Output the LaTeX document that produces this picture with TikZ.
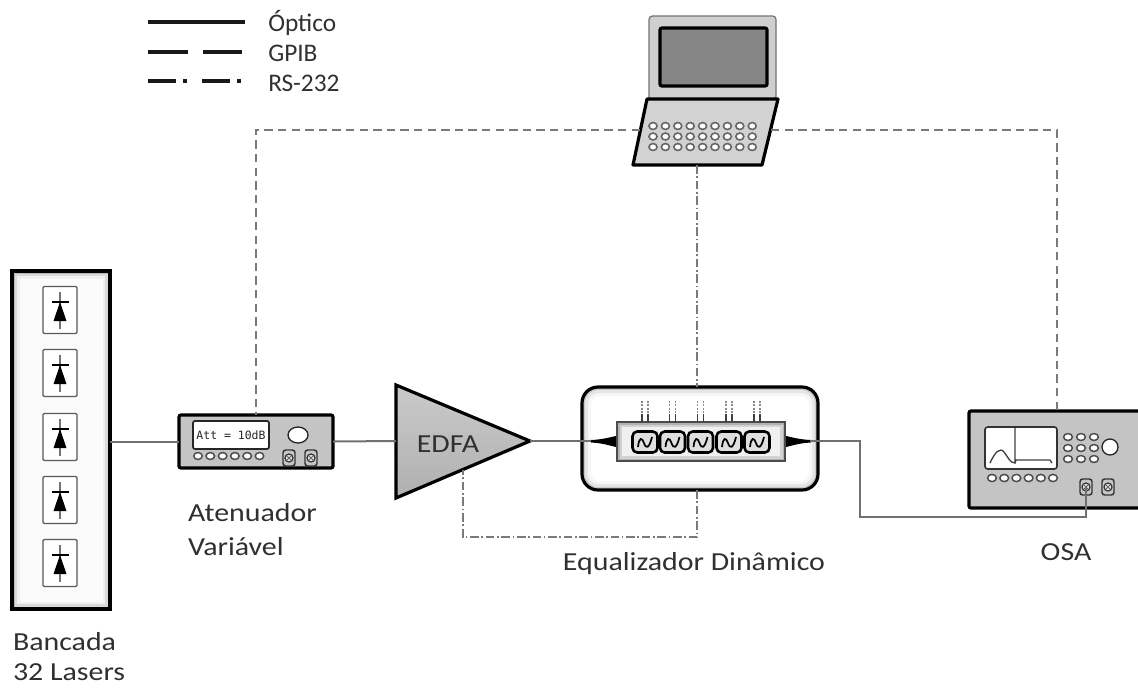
\documentclass[tikz,border=0pt]{standalone}
\usepackage{fontspec}
\setmainfont{Carlito}
\newfontfamily\labelfont[FakeStretch=1.15]{Carlito}
\newfontfamily\screenfont{DejaVu Sans Mono}
\usetikzlibrary{calc}
\definecolor{ink}{HTML}{303030}
\definecolor{wire}{HTML}{707070}
\definecolor{panel}{HTML}{C4C4C4}
\definecolor{lcd}{HTML}{868686}

\begin{document}
\begin{tikzpicture}[x=0.75pt,y=-0.75pt,
  lbl/.style={text=ink, font=\labelfont\fontsize{19.5}{23}\selectfont, inner sep=0pt, outer sep=0pt},
  legendtxt/.style={text=ink, font=\fontsize{19}{22}\selectfont, inner sep=0pt, anchor=base west},
  legendline/.style={draw=black!90, line width=2.5pt},
  optic/.style={draw=wire, line width=1.5pt},
  gpib/.style={draw=black!52, line width=1.6pt, dash pattern=on 6.3pt off 3.9pt},
  rs/.style={draw=black!52, line width=1.5pt, dash pattern=on 6.5pt off 2pt on 1.2pt off 2pt},
  device/.style={draw=black, line width=2.4pt, fill=panel, inner sep=0pt, outer sep=0pt, rounded corners=1.5pt},
  knob/.style={draw=black!85, line width=1pt, fill=white},
  btn/.style={draw=black!70, line width=1.1pt, fill=white},
  port/.style={draw=black!80, line width=1.1pt, fill=gray!45, rounded corners=2pt},
]
\clip (0,0) rectangle (1138,687);

% ---------- legend ----------
\draw[legendline] (148,22) -- (245,22);
\draw[legendline, dash pattern=on 30pt off 11.25pt] (148,52) -- (242,52);
\draw[legendline, dash pattern=on 21pt off 5.5pt on 3pt off 11pt] (148,81) -- (241,81);
\node[legendtxt] (leg-opt) at (268,31) {Óptico};
\node[legendtxt] (leg-gpib) at (268,61.5) {GPIB};
\node[legendtxt] (leg-rs) at (268,91.5) {RS-232};

% ---------- laser bank ----------
\fill[gray!55] (12,271) rectangle (110,609);
\fill[gray!30] (14.5,273.5) rectangle (107.5,606.5);
\fill[gray!12] (17,276) rectangle (105,604);
\fill[gray!3] (19.5,278.5) rectangle (102.5,601.5);
\node[draw=black, line width=2.6pt, minimum width=73.5pt, minimum height=253.5pt,
      inner sep=0pt, outer sep=0pt] (banc) at (61,440) {};
\foreach \dy in {310,373,437,500,563} {
  \draw[black!65, line width=0.9pt, fill=white, rounded corners=1pt] (43,\dy-23.5) rectangle (77,\dy+23.5);
  \draw[black!55, line width=1.1pt] (60,\dy-18) -- (60,\dy+19);
  \fill (60,\dy-8) -- (66.5,\dy+11) -- (53.5,\dy+11) -- cycle;
  \draw[line width=1.1pt] (51.5,\dy-8) -- (68.5,\dy-8);
}
\node[lbl, anchor=base west] (banc-l1) at (13,650) {Bancada};
\node[lbl, anchor=base west] (banc-l2) at (13,680) {32 Lasers};

% ---------- variable attenuator ----------
\node[device, minimum width=115.5pt, minimum height=39.75pt] (att) at (256,441.5) {};
\draw[black!85, line width=1.3pt, fill=white, rounded corners=1.5pt] (193,421) rectangle (269,449);
\node[font=\screenfont\fontsize{8.6}{10}\selectfont, text=black!85, inner sep=0pt] (att-disp) at (231,435.5) {Att = 10dB};
\draw[knob] (298,435) ellipse (7.5pt and 6pt);
\foreach \i in {0,...,5} \draw[btn] (198+12.3*\i,456) ellipse (3.2pt and 2.6pt);
\foreach \cx in {289,311} {
  \draw[port] (\cx-6,450) rectangle (\cx+6,466);
  \draw[black!80, line width=0.9pt, fill=gray!20] (\cx,458) circle (3pt);
  \draw[black!60, line width=0.6pt] (\cx-2,456) -- (\cx+2,460) (\cx+2,456) -- (\cx-2,460);
}
\node[lbl, anchor=base west] (att-l1) at (188,521.5) {Atenuador};
\node[lbl, anchor=base west] (att-l2) at (188,555) {Variável};

% ---------- EDFA ----------
\coordinate (edfa-in) at (396,441);
\coordinate (edfa-out) at (530,441);
\coordinate (edfa-bot) at (463,470);
\draw[line width=2.4pt, line join=miter, top color=gray!42, bottom color=gray!62]
  (396,385) -- (edfa-out) -- (396,498) -- cycle;
\node[lbl, anchor=base] (edfa) at (448,452) {EDFA};

% ---------- dynamic equalizer ----------
\fill[gray!45, rounded corners=12pt] (582,387) rectangle (818,490);
\fill[gray!20, rounded corners=10pt] (585,390) rectangle (815,487);
\fill[gray!6, rounded corners=8pt] (588,393) rectangle (812,484);
\fill[white, rounded corners=7pt] (591,396) rectangle (809,481);
\node[draw=black, line width=2.4pt, rounded corners=12pt, minimum width=177pt, minimum height=77.25pt,
      inner sep=0pt, outer sep=0pt] (eq) at (700,438.5) {};
\coordinate (eq-in) at (591,441);
\coordinate (eq-out) at (810,441);
% fibre tapers
\fill (591,440) .. controls (603,439.5) and (611,437) .. (618,435.5) -- (618,447.5)
      .. controls (611,446) and (603,443) .. (591,442.5) -- cycle;
\fill (811,440) .. controls (799,439.5) and (791,437) .. (784,435.5) -- (784,447.5)
      .. controls (791,446) and (799,443) .. (811,442.5) -- cycle;
% filter module
\fill[gray!60] (617,422) rectangle (785,461);
\fill[gray!35] (619.5,424.5) rectangle (782.5,458.5);
\fill[gray!12] (622,427) rectangle (780,456);
\draw[black!70, line width=1.2pt] (617,422) rectangle (785,461);
\foreach \cx in {645,672.5,700.5,729,757} {
  \draw[black!45, line width=0.8pt, dash pattern=on 1.5pt off 1pt] (\cx-3,401) -- (\cx-3,414) (\cx+3,401) -- (\cx+3,414);
  \draw[black!75, line width=0.9pt] (\cx-3,414) -- (\cx-3,422) (\cx+3,414) -- (\cx+3,422);
  \draw[line width=1.9pt, fill=gray!25, rounded corners=3.5pt] (\cx-12.5,431.5) rectangle (\cx+12.5,452.5);
  \draw[line width=1.3pt] (\cx-7,447) .. controls (\cx-6,437) and (\cx-3,437) .. (\cx-1,443)
        .. controls (\cx+1,449) and (\cx+4,449) .. (\cx+7,437);
}
\node[lbl, anchor=base] (eq-lbl) at (694,570) {Equalizador Dinâmico};

% ---------- OSA ----------
\node[device, minimum width=132pt, minimum height=72.75pt] (osa) at (1057,459.5) {};
\draw[black!80, line width=1.2pt, fill=white, rounded corners=2pt] (985,427) rectangle (1057,469);
\draw[black!75, line width=1pt] (990,463) .. controls (995,452) and (1000,447) .. (1004,452)
      .. controls (1008,457) and (1010,463) .. (1015,463) -- (1015,428)
      (1015,463) -- (1016,460) -- (1050,460) -- (1052,463);
\foreach \i in {0,...,5} \draw[btn] (992+12.2*\i,478) ellipse (3.3pt and 2.7pt);
\foreach \kx in {1068,1081,1094} \foreach \ky in {437,448,459} \draw[btn] (\kx,\ky) ellipse (3.3pt and 2.6pt);
\draw[knob] (1110,447) circle (6pt);
\coordinate (osa-port) at (1086,487);
\foreach \cx in {1086,1108} {
  \draw[port] (\cx-6,479) rectangle (\cx+6,495);
  \draw[black!80, line width=0.9pt, fill=gray!20] (\cx,487) circle (3pt);
  \draw[black!60, line width=0.6pt] (\cx-2,485) -- (\cx+2,489) (\cx+2,485) -- (\cx-2,489);
}
\node[lbl, anchor=base] (osa-lbl) at (1066,560) {OSA};

% ---------- laptop ----------
\draw[black!55, line width=0.9pt, fill=gray!38, rounded corners=2.5pt] (649,16) rectangle (776,100);
\draw[line width=2.4pt, fill=lcd, rounded corners=1.5pt] (660,28) rectangle (767,86);
\draw[line width=2.4pt, fill=gray!35, line join=round] (647,99) -- (778,99) -- (762,165) -- (633,165) -- cycle;
\foreach \ky in {126,136.5,147} \foreach \k in {0,...,8}
  \draw[black!60, line width=1.2pt, fill=white] (653+12.4*\k,\ky) ellipse (3pt and 2.6pt);
\coordinate (pc-l) at (640,130);
\coordinate (pc-r) at (771,130);
\coordinate (pc-b) at (697,165);

% ---------- links ----------
\draw[optic] (banc.east |- att.west) -- (att.west);
\draw[optic] (att.east) -- (edfa-in);
\draw[optic] (edfa-out) -- (eq-in);
\draw[optic] (eq-out) -- (860,441) |- (1086,517) -- (osa-port);
\draw[gpib] (pc-l) -| (att.north);
\draw[gpib] (pc-r) -| (osa.north);
\draw[rs] (pc-b) -- (pc-b |- eq.north);
\draw[rs] (pc-b |- eq.south) -- (697,537) -| (edfa-bot);
\end{tikzpicture}
\end{document}
